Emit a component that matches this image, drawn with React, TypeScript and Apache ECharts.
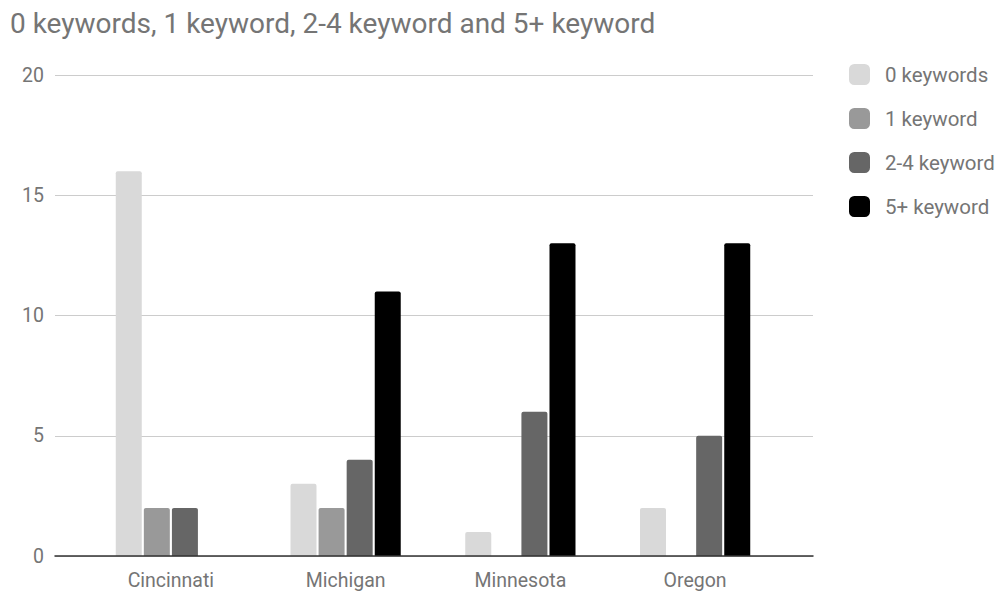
import React, { useEffect, useRef } from "react";
import * as echarts from "echarts";

const categories = ["Cincinnati", "Michigan", "Minnesota", "Oregon"];
const seriesNames = ["0 keywords", "1 keyword", "2-4 keyword", "5+ keyword"];
const zeroKeywords = [16, 3, 1, 2];
const oneKeyword = [2, 2, 0, 0];
const twoToFour = [2, 4, 6, 5];
const fivePlus = [0, 11, 13, 13];
const colors = ["#d9d9d9", "#999999", "#666666", "#000000"];
const yTicks = { min: 0, max: 20, interval: 5 };

export default function App() {
  const ref = useRef<HTMLDivElement>(null);
  useEffect(() => {
    if (!ref.current) return;
    const chart = echarts.init(ref.current, null, { renderer: "svg" });
    const values = [zeroKeywords, oneKeyword, twoToFour, fivePlus];
    const font = "Roboto";
    chart.setOption({
      animation: false,
      textStyle: { fontFamily: font },
      title: {
        text: "0 keywords, 1 keyword, 2-4 keyword and 5+ keyword",
        left: 5,
        top: 4,
        textStyle: { fontFamily: font, fontSize: 28, fontWeight: "normal", color: "#757575" },
      },
      legend: {
        orient: "vertical",
        left: 849,
        top: 64,
        padding: 0,
        itemWidth: 21,
        itemHeight: 21,
        itemGap: 23,
        icon: "roundRect",
        data: seriesNames,
        textStyle: { fontFamily: font, fontSize: 20.5, color: "#757575", padding: [0, 0, 0, 10] },
      },
      grid: [
        { left: 55, right: 185, top: 75, bottom: 37 },
        { left: 83.5, right: 215.5, top: 75, bottom: 37 },
      ],
      xAxis: [
        {
          gridIndex: 0,
          type: "category",
          data: [""],
          axisLine: { show: true, lineStyle: { color: "#333333", width: 1.5 } },
          axisTick: { show: false },
          axisLabel: { show: false },
          z: 5,
        },
        {
          gridIndex: 1,
          type: "category",
          data: categories,
          axisLine: { show: false },
          axisTick: { show: false },
          axisLabel: { fontFamily: font, fontSize: 19.5, color: "#757575", margin: 14 },
        },
      ],
      yAxis: [
        {
          gridIndex: 0,
          type: "value",
          min: yTicks.min,
          max: yTicks.max,
          interval: yTicks.interval,
          axisLine: { show: false },
          axisTick: { show: false },
          splitLine: { lineStyle: { color: "#cccccc", width: 1 } },
          axisLabel: { fontFamily: font, fontSize: 19.5, color: "#757575", margin: 11 },
        },
        {
          gridIndex: 1,
          type: "value",
          min: yTicks.min,
          max: yTicks.max,
          interval: yTicks.interval,
          show: false,
          splitLine: { show: false },
        },
      ],
      series: seriesNames.map((name, i) => ({
        name,
        type: "bar",
        xAxisIndex: 1,
        yAxisIndex: 1,
        data: values[i],
        barWidth: 26,
        barGap: "8%",
        itemStyle: { color: colors[i], borderRadius: [2, 2, 0, 0] },
      })),
    });
    return () => chart.dispose();
  }, []);
  return (
    <div
      ref={ref}
      style={{ position: "fixed", left: 0, top: 0, width: 998, height: 593, background: "#ffffff" }}
    />
  );
}
